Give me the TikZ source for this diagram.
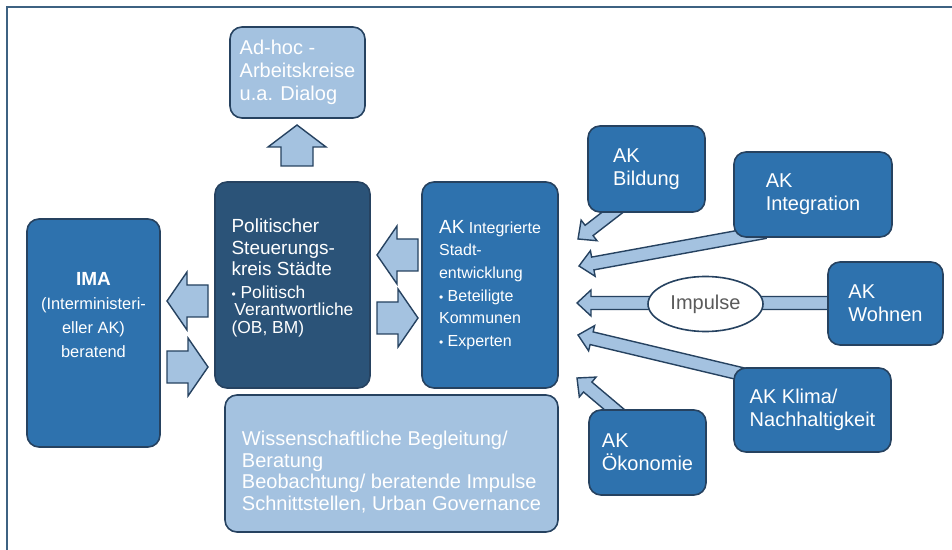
\documentclass[tikz,border=0pt]{standalone}
\usepackage{fontspec}
\setmainfont{Liberation Sans}
\usetikzlibrary{calc,shapes.geometric,backgrounds}

\definecolor{akblue}{RGB}{46,114,174}
\definecolor{stnavy}{RGB}{43,83,120}
\definecolor{lightblue}{RGB}{164,194,224}
\definecolor{edgeblue}{RGB}{38,66,96}
\definecolor{framegray}{RGB}{62,98,130}
\definecolor{textgray}{RGB}{90,90,90}

% block arrow: [style]{tail}{tip}{half shaft}{half head}{head length}
\newcommand{\blockarrow}[6][]{%
  \coordinate (ba) at ($(#3)!#6!(#2)$);
  \draw[block arrow,#1] ($(#2)!#4!90:(#3)$) -- ($(ba)!#4!90:(#3)$)
    -- ($(ba)!#5!90:(#3)$) -- (#3) -- ($(ba)!#5!-90:(#3)$)
    -- ($(ba)!#4!-90:(#3)$) -- ($(#2)!#4!-90:(#3)$) -- cycle;}

\begin{document}
\begin{tikzpicture}[x=0.5pt,y=-0.5pt,
    box/.style={rectangle, rounded corners=6pt, draw=edgeblue, line width=0.8pt,
      align=left, inner sep=0pt, text=white},
    ak box/.style={box, fill=akblue, font=\fontsize{10}{11.5}\selectfont},
    light box/.style={box, fill=lightblue, font=\fontsize{10}{11.5}\selectfont},
    block arrow/.style={fill=lightblue, draw=edgeblue, line width=0.7pt, line join=miter}]

    \useasboundingbox (0,0) rectangle (952,550);
    \draw[framegray, line width=1.2pt] (7,550) -- (7,7) -- (952,7);

    % centre column
    \node[light box, minimum width=67.5pt, minimum height=45.5pt] (adhoc) at (297.5,72.5)
        {Ad-hoc -\\Arbeitskreise\\u.a. Dialog};
    \node[box, fill=stnavy, minimum width=77.5pt, minimum height=103pt,
        font=\fontsize{9.5}{8.9}\selectfont] (steuer) at (292.5,285)
        {Politischer\\[2pt]Steuerungs-\\[2pt]kreis Städte\\[2.2pt]
         {\fontsize{8.7}{8.9}\selectfont{\fontsize{6}{6}\selectfont\textbullet} Politisch}\\
         {\fontsize{8.7}{8.9}\selectfont\,Verantwortliche}\\
         {\fontsize{8.7}{8.9}\selectfont(OB, BM)}\\};
    \node[box, fill=akblue, minimum width=68pt, minimum height=103pt,
        font=\fontsize{8}{11.3}\selectfont] (akstadt) at (490,285)
        {{\fontsize{9.5}{11.3}\selectfont AK} Integrierte\\Stadt-\\entwicklung\\
         {\fontsize{6}{6}\selectfont\textbullet} Beteiligte\\Kommunen\\
         {\fontsize{6}{6}\selectfont\textbullet} Experten};
    \node[box, fill=akblue, align=center, minimum width=66.5pt, minimum height=114pt,
        font=\fontsize{8.2}{12}\selectfont] (ima) at (93.5,333)
        {{\fontsize{9.5}{12}\selectfont\bfseries IMA}\\(Interministeri-\\eller AK)\\beratend\\[6pt]};
    \node[light box, minimum width=166.5pt, minimum height=68.5pt,
        font=\fontsize{10}{10.85}\selectfont] (wiss) at (391.5,463.5)
        {\rule{0pt}{15.8pt}Wissenschaftliche Begleitung/\\Beratung\\
         Beobachtung/ beratende Impulse\\Schnittstellen, Urban Governance};

    % working groups
    \node[ak box, minimum width=58.5pt, minimum height=43pt] (bildung) at (646.5,169) {AK\\Bildung};
    \node[ak box, minimum width=79pt, minimum height=42.5pt] (integration) at (813,194.5) {AK\\Integration};
    \node[ak box, minimum width=57.5pt, minimum height=41.5pt] (wohnen) at (885.5,303.5) {AK\\Wohnen};
    \node[ak box, minimum width=78.5pt, minimum height=42pt] (klima) at (812.5,410) {AK Klima/\\Nachhaltigkeit};
    \node[ak box, minimum width=58.5pt, minimum height=42.5pt] (oekonomie) at (647.5,452.5) {AK\\Ökonomie};
    \node[ellipse, draw=edgeblue, fill=white, line width=0.8pt, minimum width=57.5pt,
        minimum height=27.5pt, inner sep=0pt, text=textgray,
        font=\fontsize{10}{12}\selectfont] (impulse) at (705.5,304) {Impulse};

    % arrow ends
    \coordinate (up-tail) at (297,166);
    \coordinate (up-tip) at (297,125);
    \coordinate (ima-out) at (167,367);
    \coordinate (steuer-in) at (208,367);
    \coordinate (steuer-out) at (208,301);
    \coordinate (ima-in) at (167,301);
    \coordinate (steuer-r) at (377,318);
    \coordinate (akstadt-l) at (418,318);
    \coordinate (akstadt-out) at (418,255);
    \coordinate (steuer-back) at (377,255);
    \coordinate (bildung-t) at (622,205);
    \coordinate (integration-t) at (765,232);
    \coordinate (wohnen-t) at (835,303);
    \coordinate (klima-t) at (750,376);
    \coordinate (oekonomie-t) at (622,416);
    \coordinate (in-bildung) at (578,239);
    \coordinate (in-integration) at (579,266);
    \coordinate (in-wohnen) at (577,303);
    \coordinate (in-klima) at (578,335);
    \coordinate (in-oekonomie) at (577,378);

    \begin{pgfonlayer}{background}
    \blockarrow{up-tail}{up-tip}{8pt}{14.5pt}{11pt}
    \blockarrow{ima-out}{steuer-in}{8pt}{14.5pt}{10pt}
    \blockarrow{steuer-out}{ima-in}{8pt}{14.5pt}{10pt}
    \blockarrow{steuer-r}{akstadt-l}{8pt}{14.5pt}{10pt}
    \blockarrow{akstadt-out}{steuer-back}{8pt}{14.5pt}{10pt}
    \blockarrow{bildung-t}{in-bildung}{3.25pt}{6.5pt}{7pt}
    \blockarrow{integration-t}{in-integration}{3.25pt}{6.5pt}{7pt}
    \blockarrow{wohnen-t}{in-wohnen}{3.25pt}{6.5pt}{7pt}
    \blockarrow{klima-t}{in-klima}{3.25pt}{6.5pt}{7pt}
    \blockarrow{oekonomie-t}{in-oekonomie}{3.25pt}{6.5pt}{7pt}
    \end{pgfonlayer}
\end{tikzpicture}
\end{document}
